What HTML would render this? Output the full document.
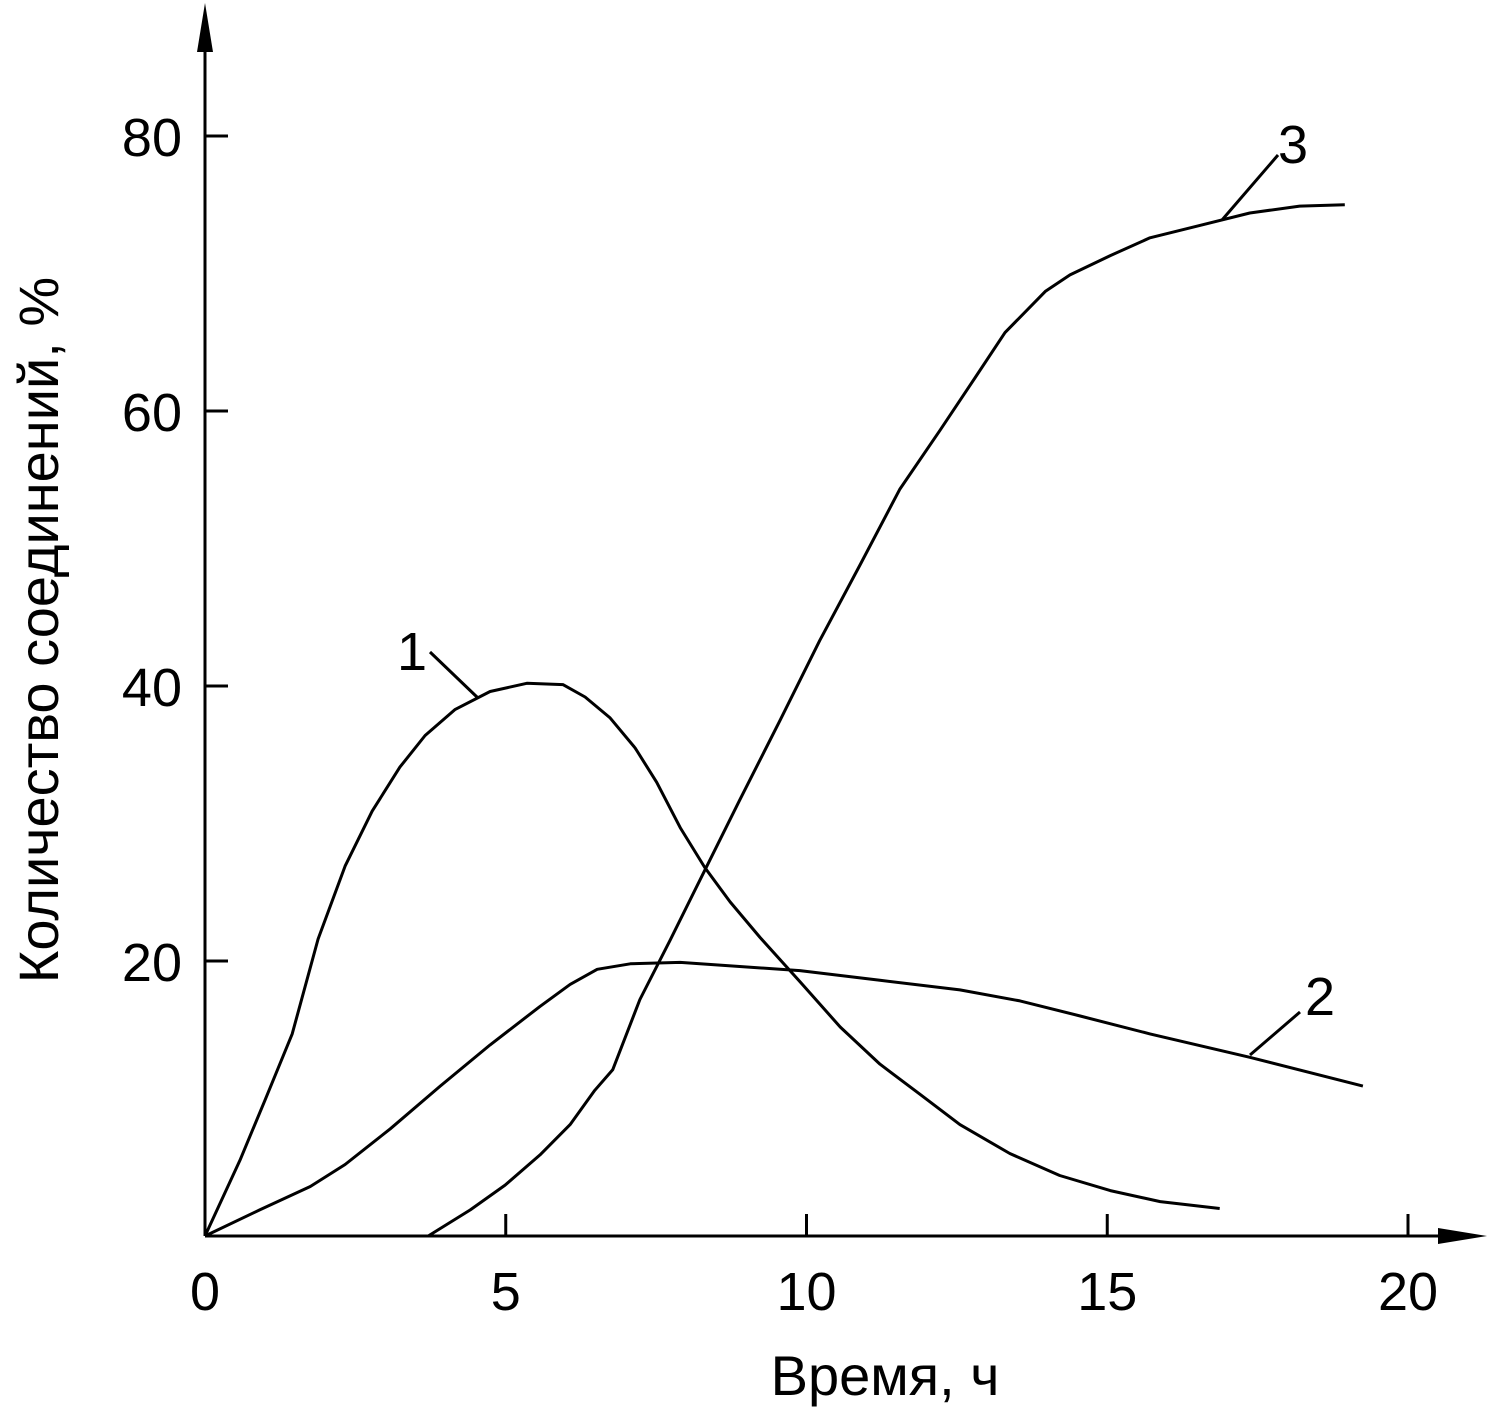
<!DOCTYPE html>
<html><head><meta charset="utf-8"><style>
html,body{margin:0;padding:0;background:#fff;}
svg text{font-family:"Liberation Sans",sans-serif;fill:#000;}
</style></head><body>
<svg id="chart" width="1489" height="1412" viewBox="0 0 1489 1412" xmlns="http://www.w3.org/2000/svg"></svg>
<script>
const xTicks=[0,5,10,15,20];
const yTicks=[20,40,60,80];
const s1x=[0,0.58,1.0,1.45,1.88,2.33,2.78,3.24,3.66,4.16,4.74,5.35,5.95,6.32,6.73,7.15,7.51,7.90,8.31,8.73,9.23,9.89,10.56,11.22,11.89,12.55,13.38,14.21,15.05,15.88,16.87];
const s1y=[0,5.5,9.9,14.7,21.6,26.9,30.9,34.1,36.4,38.3,39.6,40.2,40.1,39.2,37.7,35.5,33.0,29.7,26.8,24.3,21.7,18.5,15.2,12.5,10.3,8.1,6.0,4.4,3.3,2.5,2.0];
const s2x=[0,0.91,1.75,2.33,3.08,3.91,4.74,5.57,6.07,6.52,7.07,7.90,8.89,9.89,11.22,12.55,13.55,14.55,15.71,17.37,19.25];
const s2y=[0,1.9,3.6,5.2,7.8,10.9,13.9,16.7,18.3,19.4,19.8,19.9,19.6,19.3,18.6,17.9,17.1,16.0,14.7,13.0,10.9];
const s3x=[3.71,4.41,4.99,5.57,6.07,6.48,6.78,7.23,7.73,8.23,8.89,9.56,10.22,10.89,11.55,12.22,12.80,13.30,13.97,14.38,15.05,15.71,16.54,17.37,18.20,18.95];
const s3y=[0,1.9,3.7,5.9,8.1,10.6,12.1,17.2,21.5,25.9,31.7,37.5,43.3,48.8,54.3,58.6,62.4,65.7,68.7,69.9,71.3,72.6,73.5,74.4,74.9,75.0];
const X=v=>205+v*60.15, Y=v=>1236-v*13.75;
const svg=document.getElementById('chart'),NS="http://www.w3.org/2000/svg";
function mk(t,a){const e=document.createElementNS(NS,t);for(const k in a)e.setAttribute(k,a[k]);svg.appendChild(e);return e;}
let e;
e=mk('line',{x1:205,y1:1236,x2:1460,y2:1236,stroke:'#000','stroke-width':3});

e=mk('polygon',{points:'1487,1236 1438,1228 1438,1244',fill:'#000'});

e=mk('line',{x1:205,y1:1236,x2:205,y2:30,stroke:'#000','stroke-width':3});

e=mk('polygon',{points:'205,3 197,52 213,52',fill:'#000'});

xTicks.forEach(v=>{
 if(v>0){e=mk('line',{x1:X(v),y1:1236,x2:X(v),y2:1214,stroke:'#000','stroke-width':3});
 }
 e=mk('text',{x:X(v),y:1310,'font-size':54,'text-anchor':'middle'});e.textContent=v;
 
});
yTicks.forEach(v=>{
 e=mk('line',{x1:205,y1:Y(v),x2:228,y2:Y(v),stroke:'#000','stroke-width':3});
 
 e=mk('text',{x:182,y:Y(v)+20,'font-size':54,'text-anchor':'end'});e.textContent=v;
 
});
e=mk('text',{x:885,y:1395,'font-size':56,'text-anchor':'middle'});e.textContent='Время, ч';

e=mk('text',{x:0,y:0,'font-size':56,'text-anchor':'middle',transform:'translate(58,630) rotate(-90)'});e.textContent='Количество соединений, %';

function series(xs,ys,name){
 const d=xs.map((x,i)=>(i?'L':'M')+X(x).toFixed(1)+','+Y(ys[i]).toFixed(1)).join(' ');
 const p=mk('path',{d:d,fill:'none',stroke:'#000','stroke-width':3,'stroke-linejoin':'round'});
 
}
series(s1x,s1y,'curve-1');series(s2x,s2y,'curve-2');series(s3x,s3y,'curve-3');
[[412,670,'1',430,652,478,698],[1320,1015,'2',1300,1012,1250,1055],[1293,163,'3',1278,155,1222,220]].forEach(l=>{
 e=mk('line',{x1:l[3],y1:l[4],x2:l[5],y2:l[6],stroke:'#000','stroke-width':3});
 
 e=mk('text',{x:l[0],y:l[1],'font-size':54,'text-anchor':'middle'});e.textContent=l[2];
 
});
</script>
</body></html>
